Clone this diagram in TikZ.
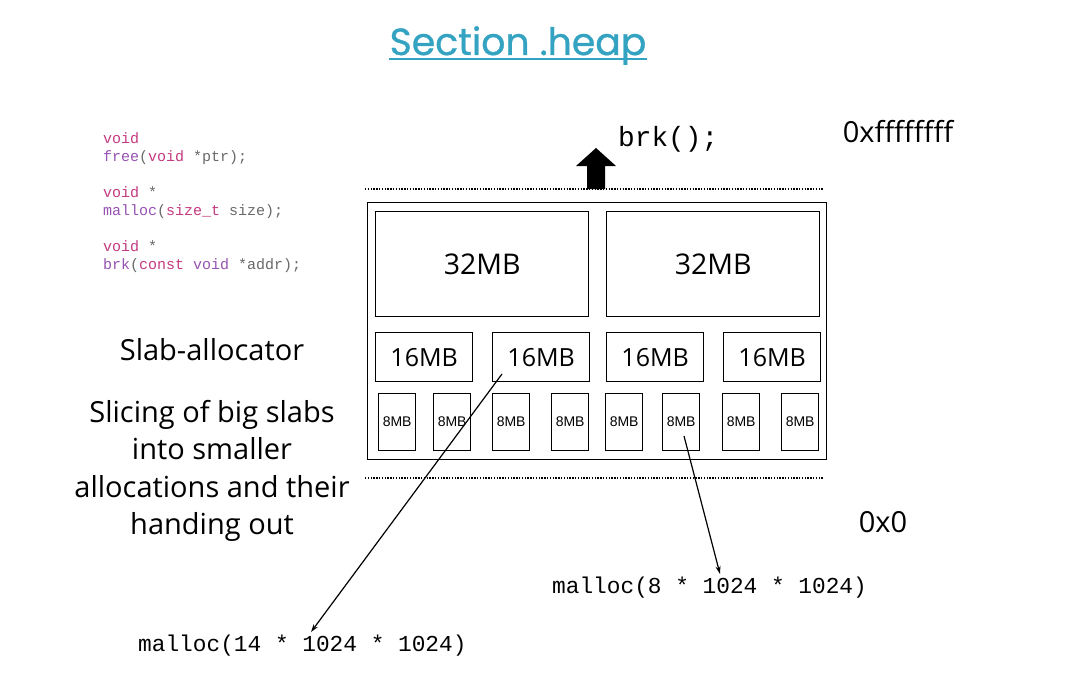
\documentclass[tikz,border=0pt]{standalone}
\usepackage{fontspec}
\setmainfont{Open Sans}
\newfontfamily\titlefont[FakeBold=0.8]{Poppins}
\newfontfamily\codefont{Liberation Mono}
\newfontfamily\boxfont{Liberation Sans}
\usetikzlibrary{arrows.meta}
\definecolor{heapblue}{RGB}{52,163,194}
\definecolor{kwpink}{RGB}{196,58,128}
\definecolor{fnpurple}{RGB}{150,82,178}
\definecolor{codegray}{RGB}{105,105,105}

\begin{document}
\begin{tikzpicture}[x=1pt, y=-1pt, >={Stealth[length=8pt, width=5pt]}, every node/.style={inner sep=0pt}]
  \tikzset{
    slab/.style={draw, line width=1.3pt, anchor=north west},
    bigslab/.style={slab, minimum width=213, minimum height=105, font=\fontsize{28.5}{30}\selectfont},
    midslab/.style={slab, minimum width=97, minimum height=49, font=\fontsize{25}{27}\selectfont},
    smallslab/.style={slab, minimum width=37, minimum height=57, font=\boxfont\fontsize{14}{16}\selectfont},
    limit/.style={line width=1.3pt, dash pattern=on 1.4pt off 1.4pt},
    call/.style={anchor=base west, font=\codefont\fontsize{22.8}{26}\selectfont},
    addr/.style={anchor=base, font=\fontsize{29}{32}\selectfont},
  }
  \useasboundingbox (0,0) rectangle (1070,677);

  % title
  \node[anchor=base, text=heapblue, font=\titlefont\fontsize{37.8}{40}\selectfont] (title) at (518,55) {Section .heap};
  \draw[heapblue, line width=2.5pt] ([yshift=-4pt]title.base west) -- ([yshift=-4pt]title.base east);

  % prototypes
  \node[anchor=north west, align=left, text=codegray, font=\codefont\fontsize{15}{18}\selectfont] (protos) at (103,132) {%
    \textcolor{kwpink}{void}\\
    \textcolor{fnpurple}{free}(\textcolor{kwpink}{void} *ptr);\\[18pt]
    \textcolor{kwpink}{void} *\\
    \textcolor{fnpurple}{malloc}(\textcolor{kwpink}{size\_t} size);\\[18pt]
    \textcolor{kwpink}{void} *\\
    \textcolor{fnpurple}{brk}(\textcolor{kwpink}{const} \textcolor{fnpurple}{void} *addr);};

  % heap limits
  \draw[limit] (365,189) -- (823,189);
  \draw[limit] (365,478) -- (823,478);
  \fill (596,148) -- (576,166) -- (587,166) -- (587,189) -- (605,189) -- (605,166) -- (616,166) -- cycle;
  \node[anchor=base west, font=\codefont\fontsize{27.8}{30}\selectfont] (brk) at (618,146) {brk();};
  \node[addr] (top) at (898,142) {0xffffffff};
  \node[addr] (bottom) at (883,532) {0x0};

  % heap and slabs
  \node[slab, minimum width=459, minimum height=257] (heap) at (367,202) {};
  \node[bigslab] (big1) at (375,211) {32MB};
  \node[bigslab] (big2) at (606,211) {32MB};
  \node[midslab] (mid1) at (375,332) {16MB};
  \node[midslab] (mid2) at (492,332) {16MB};
  \node[midslab] (mid3) at (606,332) {16MB};
  \node[midslab] (mid4) at (723,332) {16MB};
  \foreach \x [count=\i] in {378,433,492,551,605,662,722,781}
    \node[smallslab] (small\i) at (\x,393) {8MB};

  % description
  \node[anchor=base, font=\fontsize{29}{32}\selectfont] (slab) at (212,360) {Slab-allocator};
  \node[anchor=north, align=center, font=\fontsize{29}{37.5}\selectfont] (desc) at (212,400)
    {Slicing of big slabs\\into smaller\\allocations and their\\handing out};

  % allocations
  \node[call] (call8) at (552,593) {malloc(8 * 1024 * 1024)};
  \node[call] (call14) at (138,651) {malloc(14 * 1024 * 1024)};
  \coordinate (src14) at (502,374);
  \coordinate (tip14) at (311,632);
  \coordinate (src8) at (684,436);
  \coordinate (tip8) at (720,574);
  \draw[->, line width=1.2pt] (src14) -- (tip14);
  \draw[->, line width=1.2pt] (src8) -- (tip8);
\end{tikzpicture}
\end{document}
